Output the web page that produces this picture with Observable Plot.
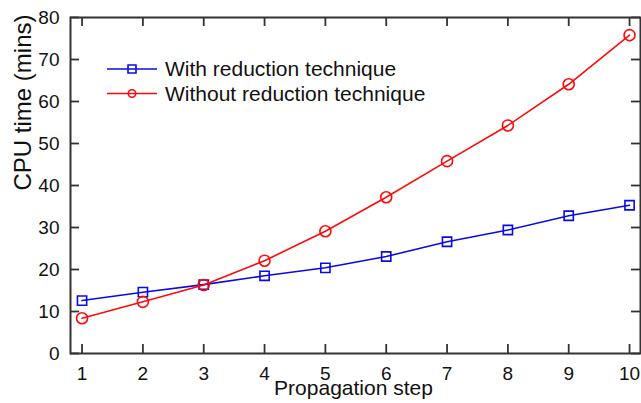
<!DOCTYPE html>
<html>
<head>
<meta charset="utf-8">
<script src="https://cdn.jsdelivr.net/npm/d3@7"></script>
<script src="https://cdn.jsdelivr.net/npm/@observablehq/plot@0.6"></script>
<style>
  html, body { margin: 0; padding: 0; background: #fff; }
  #chart svg { display: block; }
</style>
</head>
<body>
<div id="chart"></div>
<script>
// Propagation steps and CPU time (minutes) for each method
const steps = [1, 2, 3, 4, 5, 6, 7, 8, 9, 10];
const withReduction = [12.6, 14.6, 16.4, 18.5, 20.4, 23.1, 26.6, 29.4, 32.8, 35.3];
const withoutReduction = [8.4, 12.3, 16.3, 22.1, 29.1, 37.2, 45.8, 54.3, 64.1, 75.8];
const seriesNames = ["With reduction technique", "Without reduction technique"];
const xTicks = steps;
const yTicks = [0, 10, 20, 30, 40, 50, 60, 70, 80];

const blue = "#0a0ae6";
const red = "#ff0a0a";
const axisColor = "#333";
const font = "'Liberation Sans', Arial, sans-serif";

const chartWidth = 641, chartHeight = 403;
const margin = {left: 70, right: 1, top: 17, bottom: 50};
const frameW = chartWidth - margin.left - margin.right;
const frameH = chartHeight - margin.top - margin.bottom;
const tickLen = 9;

const rowsWith = steps.map((s, i) => ({step: s, time: withReduction[i]}));
const rowsWithout = steps.map((s, i) => ({step: s, time: withoutReduction[i]}));

const tickStyle = {stroke: axisColor, strokeWidth: 1.8};

const chart = Plot.plot({
  width: chartWidth,
  height: chartHeight,
  marginLeft: margin.left,
  marginRight: margin.right,
  marginTop: margin.top,
  marginBottom: margin.bottom,
  style: {fontFamily: font, color: "#111", background: "#fff"},
  x: {domain: [0.81, 10.18]},
  y: {domain: [0, 80]},
  marks: [
    Plot.frame({stroke: axisColor, strokeWidth: 2, fill: "none"}),
    // tick labels
    Plot.axisX(xTicks, {tickSize: 0, tickPadding: 13, fontSize: 19, label: null, fill: "#111"}),
    Plot.axisY(yTicks, {tickSize: 0, tickPadding: 11, fontSize: 19, label: null, fill: "#111"}),
    // inward ticks on all four sides
    Plot.tickX(xTicks, {x: d => d, insetTop: frameH - tickLen, ...tickStyle}),
    Plot.tickX(xTicks, {x: d => d, insetBottom: frameH - tickLen, ...tickStyle}),
    Plot.tickY(yTicks, {y: d => d, insetRight: frameW - tickLen, ...tickStyle}),
    Plot.tickY(yTicks, {y: d => d, insetLeft: frameW - tickLen, ...tickStyle}),
    // axis titles
    Plot.text(["Propagation step"], {frameAnchor: "bottom", lineAnchor: "bottom", dx: -2, dy: 41, fontSize: 21, fill: "#111"}),
    Plot.text(["CPU time (mins)"], {frameAnchor: "left", lineAnchor: "bottom", rotate: -90, dx: -39.5, dy: 5, fontSize: 24, fill: "#111"}),
    // series
    Plot.line(rowsWith, {x: "step", y: "time", stroke: blue, strokeWidth: 1.6}),
    Plot.dot(rowsWith, {x: "step", y: "time", symbol: "square", r: 5.2, stroke: blue, strokeWidth: 1.6, fill: "none"}),
    Plot.line(rowsWithout, {x: "step", y: "time", stroke: red, strokeWidth: 1.6}),
    Plot.dot(rowsWithout, {x: "step", y: "time", symbol: "circle", r: 5.5, stroke: red, strokeWidth: 1.6, fill: "none"})
  ]
});

// legend inside the plot area, top left
const svg = d3.select(chart);
const legend = svg.append("g").attr("transform", "translate(107,69)");
const entries = [
  {name: seriesNames[0], color: blue, symbol: d3.symbolSquare, size: 64},
  {name: seriesNames[1], color: red, symbol: d3.symbolCircle, size: 44}
];
entries.forEach((e, i) => {
  const g = legend.append("g").attr("transform", `translate(0,${i * 24.5})`);
  g.append("line").attr("x1", 0).attr("x2", 50).attr("y1", 0).attr("y2", 0)
    .attr("stroke", e.color).attr("stroke-width", 1.6);
  g.append("path").attr("d", d3.symbol(e.symbol, e.size)())
    .attr("transform", "translate(25,0)")
    .attr("fill", "none").attr("stroke", e.color).attr("stroke-width", 1.6);
  g.append("text").attr("x", 58).attr("y", 0).attr("dy", "0.35em")
    .attr("text-anchor", "start")
    .attr("font-family", font).attr("font-size", 21).attr("fill", "#111")
    .text(e.name);
});

document.getElementById("chart").appendChild(chart);
</script>
</body>
</html>
